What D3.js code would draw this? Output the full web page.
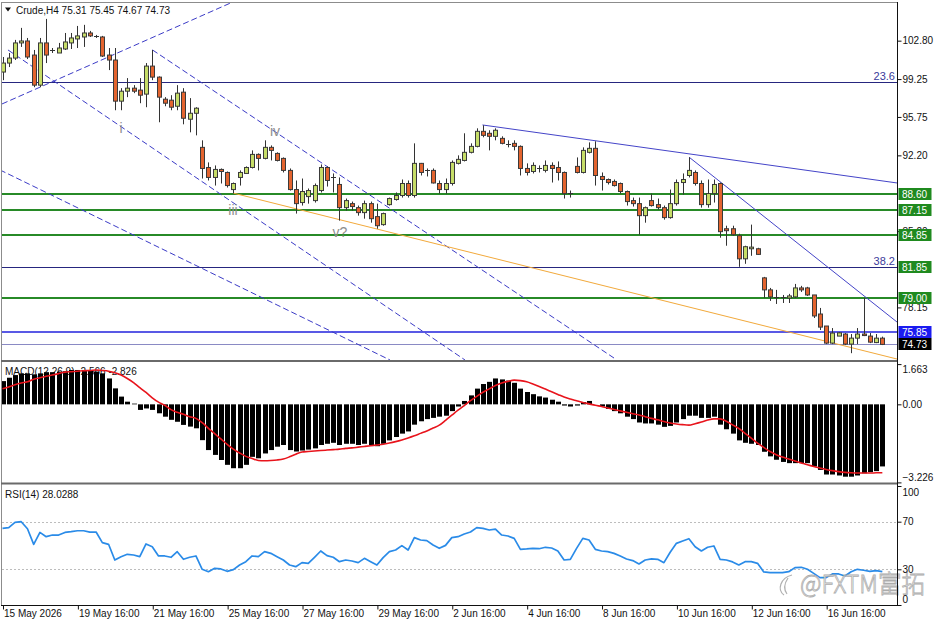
<!DOCTYPE html>
<html>
<head>
<meta charset="utf-8">
<script src="https://cdn.jsdelivr.net/npm/d3@7/dist/d3.min.js"></script>
<style>
html,body{margin:0;padding:0;background:#fff;}
svg{display:block;}
</style>
</head>
<body>
<svg id="chart" width="936" height="624"></svg>
<script>
// ---------------- DATA ----------------
const openP = [
99.90,100.73,101.19,102.59,102.77,101.47,98.69,102.59,101.94,101.66,
102.03,102.59,102.96,103.14,103.51,103.24,103.14,101.47,101.01,97.21,
98.13,98.41,98.23,97.86,100.45,99.43,97.39,97.30,96.74,98.04,
95.54,96.09,92.94,91.08,90.16,90.90,90.62,89.04,90.16,90.53,
91.08,92.29,91.92,92.94,92.38,91.92,90.81,89.04,87.84,88.39,
88.02,88.95,91.08,90.25,89.51,87.37,87.74,87.37,86.91,87.74,
86.54,85.80,87.65,88.12,88.49,89.60,88.49,91.46,90.90,90.81,
89.60,89.04,89.60,91.46,91.73,92.48,93.03,94.42,94.24,93.96,
93.77,93.31,93.31,93.03,90.99,90.71,90.99,90.81,91.27,91.08,
90.62,88.67,91.18,90.62,92.48,92.85,90.25,89.97,89.79,89.60,
88.86,88.02,87.74,86.63,88.02,87.65,87.37,86.45,87.74,89.69,
90.34,90.62,89.60,87.65,88.67,89.60,85.42,85.42,84.78,82.64,
83.57,83.57,80.88,79.77,79.12,79.08,79.02,79.12,79.95,79.95,
79.30,77.54,76.43,74.85,75.50,75.69,74.76,75.31,75.69,75.50,
74.90,75.31];
const highP = [
101.29,101.66,102.87,103.98,103.05,101.94,103.05,104.81,102.12,102.59,
103.51,103.51,104.16,104.26,103.70,103.33,103.24,102.12,102.12,98.41,
99.34,98.69,99.34,100.73,101.94,99.50,97.58,97.76,98.69,98.41,
97.49,96.65,93.59,91.55,91.27,90.99,90.71,89.69,90.81,91.18,
92.66,92.38,93.59,93.12,92.48,92.01,90.99,89.88,90.06,89.14,
89.60,91.36,91.18,90.53,90.16,88.21,87.93,87.56,88.02,87.93,
87.74,86.91,88.30,88.77,89.97,89.88,93.31,91.50,90.99,90.99,
89.88,90.06,91.73,92.20,94.24,93.31,94.70,94.98,94.52,94.70,
93.96,93.59,93.59,93.12,91.46,91.55,91.27,91.73,91.55,91.64,
90.71,88.95,92.01,92.94,93.40,93.50,90.62,90.06,89.97,89.69,
88.95,88.30,88.30,87.47,88.67,88.21,87.56,89.04,89.97,90.53,
92.01,90.81,89.88,89.97,89.97,89.69,85.70,85.70,84.96,83.85,
85.80,83.66,80.97,79.95,79.77,79.30,79.40,80.32,80.14,80.05,
79.30,78.10,76.43,76.24,75.87,75.78,75.69,76.24,79.02,75.78,
75.69,75.45];
const lowP = [
99.15,100.36,101.01,102.22,101.10,98.50,98.50,100.73,101.66,101.66,
101.94,102.03,102.12,102.22,103.14,103.05,101.29,100.08,96.37,96.37,
97.58,97.95,97.02,96.65,99.15,95.26,96.74,96.37,96.37,95.07,
94.33,94.05,90.06,89.88,89.41,89.60,89.23,88.67,89.41,90.53,
90.99,90.81,91.83,91.73,91.64,90.62,88.95,86.82,87.56,87.74,
87.84,88.77,89.32,88.77,86.17,87.10,87.10,86.63,86.35,85.98,
85.42,85.70,87.56,88.02,88.30,88.30,88.30,90.34,90.25,89.60,
88.67,88.67,89.41,91.36,91.64,92.38,92.94,93.87,92.66,93.59,
93.22,92.94,92.66,90.34,90.34,90.53,90.62,90.62,89.69,89.88,
88.21,88.30,90.53,90.53,92.38,89.41,88.95,89.51,89.32,88.67,
87.56,87.47,84.87,85.98,87.47,87.19,86.26,86.35,87.56,88.58,
90.16,89.41,87.37,87.37,87.84,84.59,83.85,84.78,81.90,82.18,
82.92,83.01,79.02,78.75,78.47,78.56,78.56,79.02,79.58,79.21,
77.17,76.06,74.76,74.76,75.50,74.67,73.92,74.76,75.50,74.85,
74.85,74.67];
const closeP = [
100.73,101.19,102.59,102.77,101.29,98.69,102.59,101.47,101.90,102.12,
102.68,103.05,103.24,103.51,103.24,103.20,101.38,101.01,97.21,98.13,
98.41,98.13,97.76,100.45,99.43,97.58,97.02,96.65,97.95,95.63,
96.09,96.56,90.99,90.16,90.90,90.71,89.41,89.60,90.62,91.08,
92.29,91.92,92.94,92.66,91.73,90.81,89.04,87.74,88.86,88.95,
89.41,91.08,89.88,90.20,87.37,88.02,87.47,86.91,87.74,86.35,
85.70,86.82,88.21,88.49,89.60,88.49,91.46,90.62,90.81,89.65,
89.04,89.60,91.55,91.83,92.48,93.03,94.42,94.05,93.96,94.52,
93.31,93.28,93.03,90.99,90.62,91.27,91.02,91.27,90.99,90.62,
88.67,88.70,90.62,92.66,92.85,90.34,89.97,89.69,89.41,88.86,
87.93,87.74,86.63,87.37,87.56,87.37,86.45,87.74,89.69,89.97,
90.81,89.60,87.65,88.67,89.51,85.15,85.24,84.87,82.64,83.76,
83.72,83.05,79.77,79.12,79.08,79.10,79.21,79.95,79.77,79.30,
77.36,76.33,74.85,75.78,75.80,74.76,75.31,75.69,75.55,74.94,
75.31,74.73];

const macdMain = [
0.96,1.10,1.21,1.28,1.28,1.24,1.28,1.33,1.33,1.35,
1.37,1.42,1.42,1.42,1.42,1.35,1.28,1.07,0.66,0.32,
0.11,0.03,-0.23,-0.17,-0.23,-0.37,-0.51,-0.64,-0.72,-0.85,
-0.92,-0.99,-1.48,-1.89,-2.09,-2.30,-2.50,-2.64,-2.64,-2.50,
-2.17,-2.23,-2.03,-1.89,-1.75,-1.68,-1.89,-1.95,-1.91,-1.87,
-1.82,-1.68,-1.63,-1.59,-1.68,-1.63,-1.63,-1.68,-1.63,-1.68,
-1.73,-1.63,-1.49,-1.35,-1.21,-1.12,-0.84,-0.70,-0.61,-0.56,
-0.51,-0.47,-0.28,-0.09,0.14,0.37,0.65,0.84,0.93,1.07,
1.03,0.98,0.89,0.65,0.51,0.42,0.33,0.28,0.19,0.11,
-0.05,-0.09,-0.05,0.09,0.14,0.00,-0.09,-0.19,-0.28,-0.37,
-0.51,-0.61,-0.75,-0.79,-0.79,-0.84,-0.93,-0.89,-0.75,-0.61,
-0.47,-0.47,-0.56,-0.56,-0.51,-0.84,-1.03,-1.21,-1.49,-1.59,
-1.63,-1.68,-1.96,-2.15,-2.29,-2.38,-2.43,-2.43,-2.43,-2.43,
-2.57,-2.71,-2.90,-2.90,-2.94,-2.99,-2.99,-2.94,-2.85,-2.80,
-2.76,-2.566];
const macdSignal = [
0.64,0.72,0.81,0.88,0.93,1.04,1.10,1.16,1.21,1.27,
1.33,1.35,1.37,1.39,1.40,1.42,1.40,1.37,1.31,1.21,
1.07,0.90,0.69,0.49,0.27,0.09,-0.04,-0.22,-0.33,-0.41,
-0.51,-0.58,-0.76,-0.99,-1.21,-1.43,-1.65,-1.85,-2.01,-2.15,
-2.24,-2.32,-2.33,-2.32,-2.30,-2.26,-2.17,-2.06,-1.97,-1.95,
-1.93,-1.91,-1.89,-1.87,-1.85,-1.82,-1.80,-1.77,-1.74,-1.71,
-1.68,-1.65,-1.60,-1.54,-1.47,-1.39,-1.30,-1.20,-1.10,-0.98,
-0.86,-0.66,-0.45,-0.24,-0.05,0.15,0.33,0.50,0.64,0.78,
0.88,0.95,1.00,0.98,0.93,0.84,0.74,0.63,0.52,0.41,
0.30,0.22,0.15,0.08,0.02,-0.04,-0.09,-0.15,-0.21,-0.27,
-0.33,-0.39,-0.44,-0.51,-0.58,-0.64,-0.71,-0.77,-0.81,-0.84,
-0.86,-0.80,-0.73,-0.65,-0.60,-0.60,-0.70,-0.85,-1.00,-1.20,
-1.40,-1.60,-1.78,-1.95,-2.08,-2.18,-2.26,-2.34,-2.42,-2.50,
-2.57,-2.63,-2.69,-2.74,-2.78,-2.81,-2.83,-2.84,-2.84,-2.84,
-2.83,-2.826];
const rsiValues = [
64.4,65.0,69.4,70.0,64.1,51.0,61.0,57.4,58.8,58.8,
61.0,61.6,62.4,62.4,61.3,61.3,52.4,51.0,37.8,40.6,
42.6,42.0,40.6,51.3,49.0,41.2,41.2,40.1,44.8,38.4,
40.1,41.2,30.0,28.0,30.8,30.3,28.3,29.7,33.6,36.4,
41.2,40.6,44.8,43.4,40.6,37.8,33.6,32.2,35.6,35.0,
40.1,45.4,41.5,40.1,36.4,37.8,37.0,35.6,39.2,36.4,
33.6,39.8,44.8,46.2,49.9,46.2,56.6,54.6,54.1,50.4,
47.6,50.1,56.6,57.4,59.7,61.3,65.0,64.4,63.0,63.8,
58.8,58.0,56.0,46.8,47.1,47.6,47.3,48.5,47.9,45.4,
37.8,38.4,47.6,56.0,54.6,46.8,45.4,44.8,43.4,41.2,
38.7,37.3,34.5,37.8,38.7,38.4,35.6,44.3,51.8,53.8,
55.7,49.0,45.4,48.5,49.6,38.4,37.8,36.2,33.6,36.4,
36.4,35.0,27.8,27.2,27.2,27.2,28.0,31.4,31.7,30.0,
26.6,23.0,23.0,26.1,26.1,24.4,28.0,30.0,29.2,28.3,
28.9,28.03];

const timeLabels = ["15 May 2026","19 May 16:00","21 May 16:00","25 May 16:00","27 May 16:00","29 May 16:00","2 Jun 16:00","4 Jun 16:00","8 Jun 16:00","10 Jun 16:00","12 Jun 16:00","16 Jun 16:00"];
const timeTickBars = [0,12,24,36,48,60,72,84,96,108,120,132];
// visible price scale labels (88.70 and 81.65 are fully covered by level boxes)
const priceTicks = [102.80,99.25,95.75,92.20,85.20,78.15];
const macdTicks = [1.663,0,-3.226];
const rsiTicks = [100,70,30,0];
const rsiLevels = [70,30];

const greenLevels = [88.60,87.15,84.85,79.00];
const greenBoxes = [88.60,87.15,84.85,81.85,79.00];
const fibLevels = [99.00,81.86];
const fibNames = ["23.6","38.2"];
const supportLevel = 75.85;
const bidPrice = 74.73;

// trend lines: [bar1, price1, bar2, price2]
const dashedLines = [
  [-0.08,96.95,36.94,106.38],
  [0.88,101.94,74.12,73.29],
  [-0.40,90.85,62.10,73.29],
  [24.04,101.94,98.00,73.47]
];
const blueLines = [
  [76.92,95.01,143.35,89.65],
  [110.02,92.04,143.35,76.80]
];
const orangeLine = [36.94,88.72,143.35,73.38];

const waveNames = ["i","iii","iv","v?"];
const waveBars = [19.0,36.94,43.67,54.09];
const wavePrices = [94.73,87.14,94.45,85.12];

const headerText = "Crude,H4 75.31 75.45 74.67 74.73";
const macdText = "MACD(12,26,9) -2.566 -2.826";
const rsiText = "RSI(14) 28.0288";

// ---------------- CHART ----------------
const FONT = '"Liberation Sans", Arial, sans-serif';
const svg = d3.select("#chart");
const N = openP.length;
const AXX = 897.5;

const x = d3.scaleLinear().domain([0, N - 1]).range([2.5, 2.5 + 6.24 * (N - 1)]);
const yMain = d3.scaleLinear().domain([73.29, 106.28]).range([360, 3]);
const yMacd = d3.scaleLinear().domain([-3.226, 1.663]).range([482.4, 364.1]);
const yRsi = d3.scaleLinear().domain([0, 100]).range([605, 486]);

const defs = svg.append("defs");
function clip(id, y0, y1) {
  defs.append("clipPath").attr("id", id).append("rect")
    .attr("x", 2).attr("y", y0).attr("width", AXX - 2).attr("height", y1 - y0);
}
clip("cMain", 3, 360);
clip("cMacd", 362, 482.5);
clip("cRsi", 485, 605);

// ---- main panel
const gM = svg.append("g").attr("clip-path", "url(#cMain)");

gM.selectAll("line.fib").data(fibLevels).join("line")
  .attr("x1", 0).attr("x2", AXX)
  .attr("y1", d => Math.round(yMain(d)) + 0.5).attr("y2", d => Math.round(yMain(d)) + 0.5)
  .attr("stroke", "#26267f").attr("stroke-width", 1);
gM.selectAll("text.fib").data(fibLevels).join("text")
  .attr("x", 895).attr("y", d => yMain(d) - 2)
  .attr("text-anchor", "end").attr("font-family", FONT).attr("font-size", 11)
  .attr("fill", "#3a3a9a").text((d, i) => fibNames[i]);

gM.selectAll("line.green").data(greenLevels).join("line")
  .attr("x1", 0).attr("x2", AXX)
  .attr("y1", d => Math.round(yMain(d))).attr("y2", d => Math.round(yMain(d)))
  .attr("stroke", "#278a27").attr("stroke-width", 2);

gM.append("line").attr("x1", 0).attr("x2", AXX)
  .attr("y1", Math.round(yMain(supportLevel))).attr("y2", Math.round(yMain(supportLevel)))
  .attr("stroke", "#2222dd").attr("stroke-width", 1.6);

gM.append("line").attr("x1", 0).attr("x2", AXX)
  .attr("y1", Math.round(yMain(bidPrice)) + 0.5).attr("y2", Math.round(yMain(bidPrice)) + 0.5)
  .attr("stroke", "#8a8ac4").attr("stroke-width", 1);

gM.selectAll("line.dash").data(dashedLines).join("line")
  .attr("x1", d => x(d[0])).attr("y1", d => yMain(d[1]))
  .attr("x2", d => x(d[2])).attr("y2", d => yMain(d[3]))
  .attr("stroke", "#3b3bc6").attr("stroke-width", 1).attr("stroke-dasharray", "6,3");
gM.selectAll("line.blue").data(blueLines).join("line")
  .attr("x1", d => x(d[0])).attr("y1", d => yMain(d[1]))
  .attr("x2", d => x(d[2])).attr("y2", d => yMain(d[3]))
  .attr("stroke", "#4444c8").attr("stroke-width", 1);
gM.append("line")
  .attr("x1", x(orangeLine[0])).attr("y1", yMain(orangeLine[1]))
  .attr("x2", x(orangeLine[2])).attr("y2", yMain(orangeLine[3]))
  .attr("stroke", "#f2a93b").attr("stroke-width", 1);

gM.selectAll("text.wave").data(waveNames).join("text")
  .attr("x", (d, i) => x(waveBars[i])).attr("y", (d, i) => yMain(wavePrices[i]))
  .attr("text-anchor", "middle").attr("dominant-baseline", "central")
  .attr("font-family", FONT).attr("font-size", 14).attr("fill", "#8e8e8e")
  .text(d => d);

const candles = d3.range(N).map(i => ({ i, o: openP[i], h: highP[i], l: lowP[i], c: closeP[i] }));
const gC = gM.append("g");
gC.selectAll("line.wick").data(candles).join("line")
  .attr("x1", d => Math.round(x(d.i)) + 0.5).attr("x2", d => Math.round(x(d.i)) + 0.5)
  .attr("y1", d => yMain(d.h)).attr("y2", d => yMain(d.l))
  .attr("stroke", "#333").attr("stroke-width", 1);
gC.selectAll("rect.body").data(candles.filter(d => Math.abs(yMain(d.o) - yMain(d.c)) >= 1.5)).join("rect")
  .attr("x", d => Math.round(x(d.i)) - 1.5).attr("width", 4)
  .attr("y", d => Math.min(yMain(d.o), yMain(d.c)))
  .attr("height", d => Math.abs(yMain(d.o) - yMain(d.c)))
  .attr("fill", d => d.c >= d.o ? "#c6dd68" : "#e3642f")
  .attr("stroke", "#3a3a3a").attr("stroke-width", 1);
gC.selectAll("line.doji").data(candles.filter(d => Math.abs(yMain(d.o) - yMain(d.c)) < 1.5)).join("line")
  .attr("x1", d => Math.round(x(d.i)) - 2).attr("x2", d => Math.round(x(d.i)) + 3)
  .attr("y1", d => Math.round(yMain(d.c)) + 0.5).attr("y2", d => Math.round(yMain(d.c)) + 0.5)
  .attr("stroke", "#333").attr("stroke-width", 1);

svg.append("path").attr("d", "M5,7.5 L11,7.5 L8,11.5 Z").attr("fill", "#111");
svg.append("text").attr("x", 16).attr("y", 13.5).attr("font-family", FONT)
  .attr("font-size", 10).attr("fill", "#111").text(headerText);

// ---- MACD panel
const gD = svg.append("g").attr("clip-path", "url(#cMacd)");
gD.append("text").attr("x", 5).attr("y", 374.5).attr("font-family", FONT)
  .attr("font-size", 10).attr("fill", "#111").text(macdText);
gD.selectAll("rect.hist").data(macdMain).join("rect")
  .attr("x", (d, i) => Math.round(x(i)) - 2).attr("width", 5)
  .attr("y", d => Math.min(yMacd(0), yMacd(d)))
  .attr("height", d => Math.abs(yMacd(d) - yMacd(0)))
  .attr("fill", "#000");
gD.append("path").datum(macdSignal)
  .attr("d", d3.line().x((d, i) => x(i)).y(d => yMacd(d)).curve(d3.curveMonotoneX))
  .attr("fill", "none").attr("stroke", "#e8141c").attr("stroke-width", 1.6);

// ---- RSI panel
const gR = svg.append("g").attr("clip-path", "url(#cRsi)");
gR.selectAll("line.lvl").data(rsiLevels).join("line")
  .attr("x1", 2).attr("x2", AXX)
  .attr("y1", d => Math.round(yRsi(d)) + 0.5).attr("y2", d => Math.round(yRsi(d)) + 0.5)
  .attr("stroke", "#bdbdbd").attr("stroke-dasharray", "2,2");
gR.append("text").attr("x", 5).attr("y", 497.5).attr("font-family", FONT)
  .attr("font-size", 10).attr("fill", "#111").text(rsiText);
gR.append("path").datum(rsiValues)
  .attr("d", d3.line().x((d, i) => x(i)).y(d => yRsi(d)))
  .attr("fill", "none").attr("stroke", "#2a8be8").attr("stroke-width", 1.7)
  .attr("stroke-linejoin", "round");

// watermark
const wm = svg.append("g").attr("opacity", 0.9);
wm.append("path").attr("d", "M792,575 C780,578 777,590 784,595 M788,578 C784,584 784,590 787,594")
  .attr("fill", "none").attr("stroke", "#a9a9a9").attr("stroke-width", 1.2);
wm.append("text").attr("x", 800).attr("y", 593).attr("textLength", 125)
  .attr("lengthAdjust", "spacingAndGlyphs")
  .attr("font-family", '"Noto Sans CJK SC","Noto Sans",sans-serif').attr("font-size", 25)
  .attr("font-weight", 300)
  .attr("fill", "#fafafa").attr("stroke", "#a4a4a4").attr("stroke-width", 0.8)
  .text("@FXTM富拓");

// ---- frame
svg.append("line").attr("x1", 1.5).attr("x2", 1.5).attr("y1", 2).attr("y2", 605).attr("stroke", "#8c8c8c");
svg.append("line").attr("x1", 1).attr("x2", AXX).attr("y1", 2.5).attr("y2", 2.5).attr("stroke", "#8c8c8c");
svg.append("rect").attr("x", 1).attr("y", 360).attr("width", AXX - 1).attr("height", 2).attr("fill", "#6a6a6a");
svg.append("rect").attr("x", 1).attr("y", 482.5).attr("width", AXX - 1).attr("height", 2).attr("fill", "#6a6a6a");

// ---- axes
function styleAxis(g) {
  g.select(".domain").remove();
  g.selectAll("text").attr("font-family", FONT).attr("font-size", 10).attr("fill", "#111");
  g.selectAll("line").attr("stroke", "#111");
}
svg.append("g").attr("transform", `translate(${AXX},0)`)
  .call(d3.axisRight(yMain).tickValues(priceTicks).tickSize(4).tickPadding(1).tickFormat(d3.format(".2f")))
  .call(styleAxis);

const axM = svg.append("g").attr("transform", `translate(${AXX},0)`)
  .call(d3.axisRight(yMacd).tickValues(macdTicks).tickSize(4).tickPadding(1)
    .tickFormat(d => d === 0 ? "0.00" : d3.format(".3f")(d)))
  .call(styleAxis);
axM.selectAll(".tick").filter(d => d === 1.663).select("text").attr("y", 5);
axM.selectAll(".tick").filter(d => d === -3.226).select("text").attr("y", -5);

const axR = svg.append("g").attr("transform", `translate(${AXX},0)`)
  .call(d3.axisRight(yRsi).tickValues(rsiTicks).tickSize(4).tickPadding(1).tickFormat(d3.format("d")))
  .call(styleAxis);
axR.selectAll(".tick").filter(d => d === 100).select("text").attr("y", 6);
axR.selectAll(".tick").filter(d => d === 0).select("text").attr("y", -6);

const axT = svg.append("g").attr("transform", "translate(0,605.5)")
  .call(d3.axisBottom(x).tickValues(timeTickBars).tickSize(4).tickFormat((d, k) => timeLabels[k]))
  .call(styleAxis);
axT.selectAll(".tick text").attr("text-anchor", "start").attr("x", 1).attr("y", 4.5).attr("dy", "0.71em");
axT.selectAll(".tick line").attr("transform", "translate(0.5,0)");

svg.append("line").attr("x1", AXX).attr("x2", AXX).attr("y1", 2).attr("y2", 606).attr("stroke", "#111");
svg.append("line").attr("x1", 1).attr("x2", AXX).attr("y1", 605.5).attr("y2", 605.5).attr("stroke", "#111");

// price boxes
function box(v, bg) {
  const yy = Math.round(yMain(v));
  svg.append("rect").attr("x", 898.5).attr("y", yy - 6).attr("width", 33).attr("height", 12).attr("fill", bg);
  svg.append("text").attr("x", 902).attr("y", yy).attr("dy", "0.35em")
    .attr("font-family", FONT).attr("font-size", 10).attr("fill", "#fff").text(d3.format(".2f")(v));
}
greenBoxes.forEach(v => box(v, "#1f8a1f"));
box(supportLevel, "#1b1bf0");
box(bidPrice, "#000");
</script>
</body>
</html>
